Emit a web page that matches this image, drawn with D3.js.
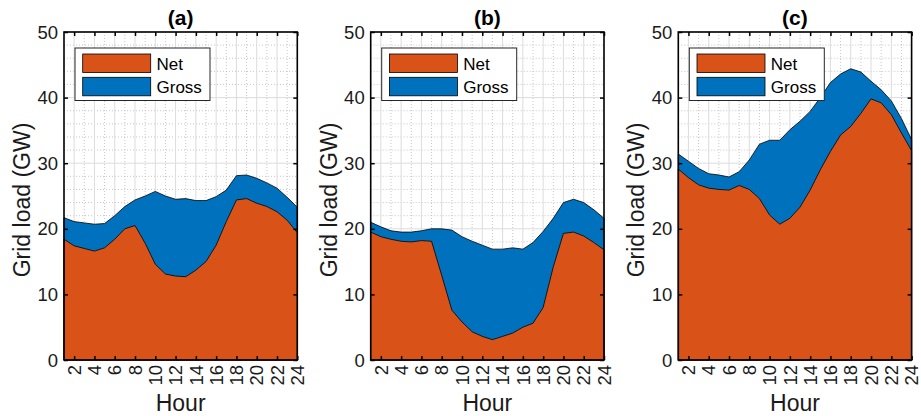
<!DOCTYPE html>
<html>
<head>
<meta charset="utf-8">
<script src="https://cdn.jsdelivr.net/npm/d3@7"></script>
<style>
  body { margin: 0; background: #fff; }
  svg { display: block; font-family: "Liberation Sans", Arial, sans-serif; }
</style>
</head>
<body>
<svg id="chart" width="921" height="416"></svg>
<script>
// hours on the x axis
const hours = d3.range(1, 25);

// panel (a)
const netA = [18.4, 17.4, 17.0, 16.6, 17.1, 18.4, 20.0, 20.5, 17.8, 14.6, 13.1, 12.8,
              12.7, 13.7, 15.0, 17.5, 21.1, 24.4, 24.6, 23.9, 23.4, 22.6, 21.3, 19.4];
const grossA = [21.7, 21.1, 20.9, 20.7, 20.8, 22.0, 23.4, 24.4, 25.0, 25.7, 25.0, 24.5,
                24.6, 24.3, 24.3, 24.9, 25.9, 28.1, 28.2, 27.7, 27.0, 26.2, 24.8, 23.3];

// panel (b)
const netB = [19.5, 18.8, 18.4, 18.1, 18.0, 18.2, 18.1, 12.9, 7.6, 5.8, 4.3, 3.6,
              3.1, 3.6, 4.1, 5.0, 5.6, 8.0, 14.2, 19.3, 19.5, 18.9, 17.9, 16.8];
const grossB = [21.0, 20.3, 19.7, 19.5, 19.5, 19.7, 20.0, 20.0, 19.8, 18.8, 18.1, 17.5,
                16.9, 16.9, 17.1, 16.9, 17.9, 19.6, 21.6, 24.0, 24.5, 24.0, 22.9, 21.6];

// panel (c)
const netC = [29.1, 27.8, 26.7, 26.2, 26.0, 25.9, 26.6, 26.0, 24.6, 22.1, 20.7, 21.6,
              23.3, 25.9, 29.0, 31.8, 34.3, 35.6, 37.6, 39.8, 39.2, 37.4, 34.6, 31.9];
const grossC = [31.4, 30.3, 29.2, 28.4, 28.2, 27.9, 28.7, 30.5, 32.9, 33.5, 33.5, 35.1,
                36.4, 37.9, 40.0, 42.3, 43.6, 44.4, 43.9, 42.5, 41.2, 39.5, 36.8, 33.6];

const panelTitles = ["(a)", "(b)", "(c)"];
const seriesNames = ["Net", "Gross"];
const xTicks = d3.range(2, 25, 2);
const yTicks = d3.range(0, 51, 10);

const panels = [
    { title: panelTitles[0], net: netA, gross: grossA },
    { title: panelTitles[1], net: netB, gross: grossB },
    { title: panelTitles[2], net: netC, gross: grossC }
];

const netColor = "#D95319";
const grossColor = "#0072BD";

const svg = d3.select("#chart");
const lefts = [64, 370.7, 678.3];
const plotW = 233.3;
const plotTop = 32, plotBottom = 360;

panels.forEach((p, i) => {
    const left = lefts[i];
    const x = d3.scaleLinear().domain([1, 24]).range([left, left + plotW]);
    const y = d3.scaleLinear().domain([0, 50]).range([plotBottom, plotTop]);

    const g = svg.append("g");

    // minor grid
    const grid = g.append("g").attr("fill", "none");
    grid.selectAll(".xminor")
        .data(d3.range(1, 25, 2))
        .join("line")
        .attr("x1", d => x(d)).attr("x2", d => x(d))
        .attr("y1", plotTop).attr("y2", plotBottom)
        .attr("stroke", "#b8b8b8")
        .attr("stroke-width", 0.8)
        .attr("stroke-dasharray", "1,2");
    grid.selectAll(".yminor")
        .data(d3.range(0, 51, 2).filter(v => v % 10 !== 0))
        .join("line")
        .attr("x1", left).attr("x2", left + plotW)
        .attr("y1", d => y(d)).attr("y2", d => y(d))
        .attr("stroke", "#b8b8b8")
        .attr("stroke-width", 0.8)
        .attr("stroke-dasharray", "1,2");
    // major grid
    grid.selectAll(".xmajor")
        .data(xTicks)
        .join("line")
        .attr("x1", d => x(d)).attr("x2", d => x(d))
        .attr("y1", plotTop).attr("y2", plotBottom)
        .attr("stroke", "#dcdcdc")
        .attr("stroke-width", 1);
    grid.selectAll(".ymajor")
        .data(yTicks)
        .join("line")
        .attr("x1", left).attr("x2", left + plotW)
        .attr("y1", d => y(d)).attr("y2", d => y(d))
        .attr("stroke", "#dcdcdc")
        .attr("stroke-width", 1);

    // areas: gross behind, net in front
    const areaOf = vals => d3.area()
        .x((d, j) => x(hours[j]))
        .y0(y(0))
        .y1(d => y(d))(vals);

    g.append("path")
        .attr("d", areaOf(p.gross))
        .attr("fill", grossColor)
        .attr("stroke", "#000")
        .attr("stroke-width", 0.8)
        .attr("stroke-linejoin", "round");
    g.append("path")
        .attr("d", areaOf(p.net))
        .attr("fill", netColor)
        .attr("stroke", "#000")
        .attr("stroke-width", 0.8)
        .attr("stroke-linejoin", "round");

    // axes with inward ticks on all sides
    const tl = 4;
    g.append("g")
        .attr("transform", `translate(0,${plotBottom})`)
        .call(d3.axisBottom(x).tickValues(xTicks).tickSizeInner(-tl).tickSizeOuter(0).tickFormat(""))
        .call(a => a.select(".domain").remove());
    g.append("g")
        .attr("transform", `translate(0,${plotTop})`)
        .call(d3.axisTop(x).tickValues(xTicks).tickSizeInner(-tl).tickSizeOuter(0).tickFormat(""))
        .call(a => a.select(".domain").remove());
    g.append("g")
        .attr("transform", `translate(${left},0)`)
        .call(d3.axisLeft(y).tickValues(yTicks).tickSizeInner(-tl).tickSizeOuter(0).tickFormat(""))
        .call(a => a.select(".domain").remove());
    g.append("g")
        .attr("transform", `translate(${left + plotW},0)`)
        .call(d3.axisRight(y).tickValues(yTicks).tickSizeInner(-tl).tickSizeOuter(0).tickFormat(""))
        .call(a => a.select(".domain").remove());
    g.selectAll(".tick line").attr("stroke", "#000").attr("stroke-width", 1.5);

    g.append("rect")
        .attr("x", left).attr("y", plotTop)
        .attr("width", plotW).attr("height", plotBottom - plotTop)
        .attr("fill", "none")
        .attr("stroke", "#000")
        .attr("stroke-width", 1.6);

    // tick labels
    g.append("g")
        .attr("font-size", 18.5)
        .attr("fill", "#1a1a1a")
        .selectAll("text")
        .data(xTicks)
        .join("text")
        .attr("transform", d => `translate(${x(d)},${plotBottom + 5}) rotate(-90)`)
        .attr("text-anchor", "end")
        .attr("dy", "0.36em")
        .text(d => d);
    g.append("g")
        .attr("font-size", 18.5)
        .attr("fill", "#1a1a1a")
        .selectAll("text")
        .data(yTicks)
        .join("text")
        .attr("x", left - 6)
        .attr("y", d => y(d))
        .attr("text-anchor", "end")
        .attr("dy", "0.36em")
        .text(d => d);

    // axis labels and title
    g.append("text")
        .attr("transform", `translate(${left - 34},${(plotTop + plotBottom) / 2 + 4}) rotate(-90)`)
        .attr("text-anchor", "middle")
        .attr("font-size", 23)
        .attr("fill", "#1a1a1a")
        .text("Grid load (GW)");
    g.append("text")
        .attr("x", left + plotW / 2)
        .attr("y", 411)
        .attr("text-anchor", "middle")
        .attr("font-size", 23)
        .attr("fill", "#1a1a1a")
        .text("Hour");
    g.append("text")
        .attr("x", left + plotW / 2)
        .attr("y", 25)
        .attr("text-anchor", "middle")
        .attr("font-size", 21)
        .attr("font-weight", "bold")
        .attr("fill", "#000")
        .text(p.title);

    // legend
    const lg = g.append("g").attr("transform", `translate(${left + 11},${plotTop + 16})`);
    lg.append("rect")
        .attr("width", 135).attr("height", 52.5)
        .attr("fill", "#fff")
        .attr("stroke", "#262626")
        .attr("stroke-width", 1);
    [netColor, grossColor].forEach((c, k) => {
        lg.append("rect")
            .attr("x", 7.7).attr("y", 6 + k * 23.3)
            .attr("width", 68).attr("height", 18.5)
            .attr("fill", c)
            .attr("stroke", "#000")
            .attr("stroke-width", 0.8);
        lg.append("text")
            .attr("x", 81.5).attr("y", 6 + k * 23.3 + 9.5)
            .attr("dy", "0.36em")
            .attr("font-size", 17)
            .attr("fill", "#000")
            .text(seriesNames[k]);
    });
});
</script>
</body>
</html>
